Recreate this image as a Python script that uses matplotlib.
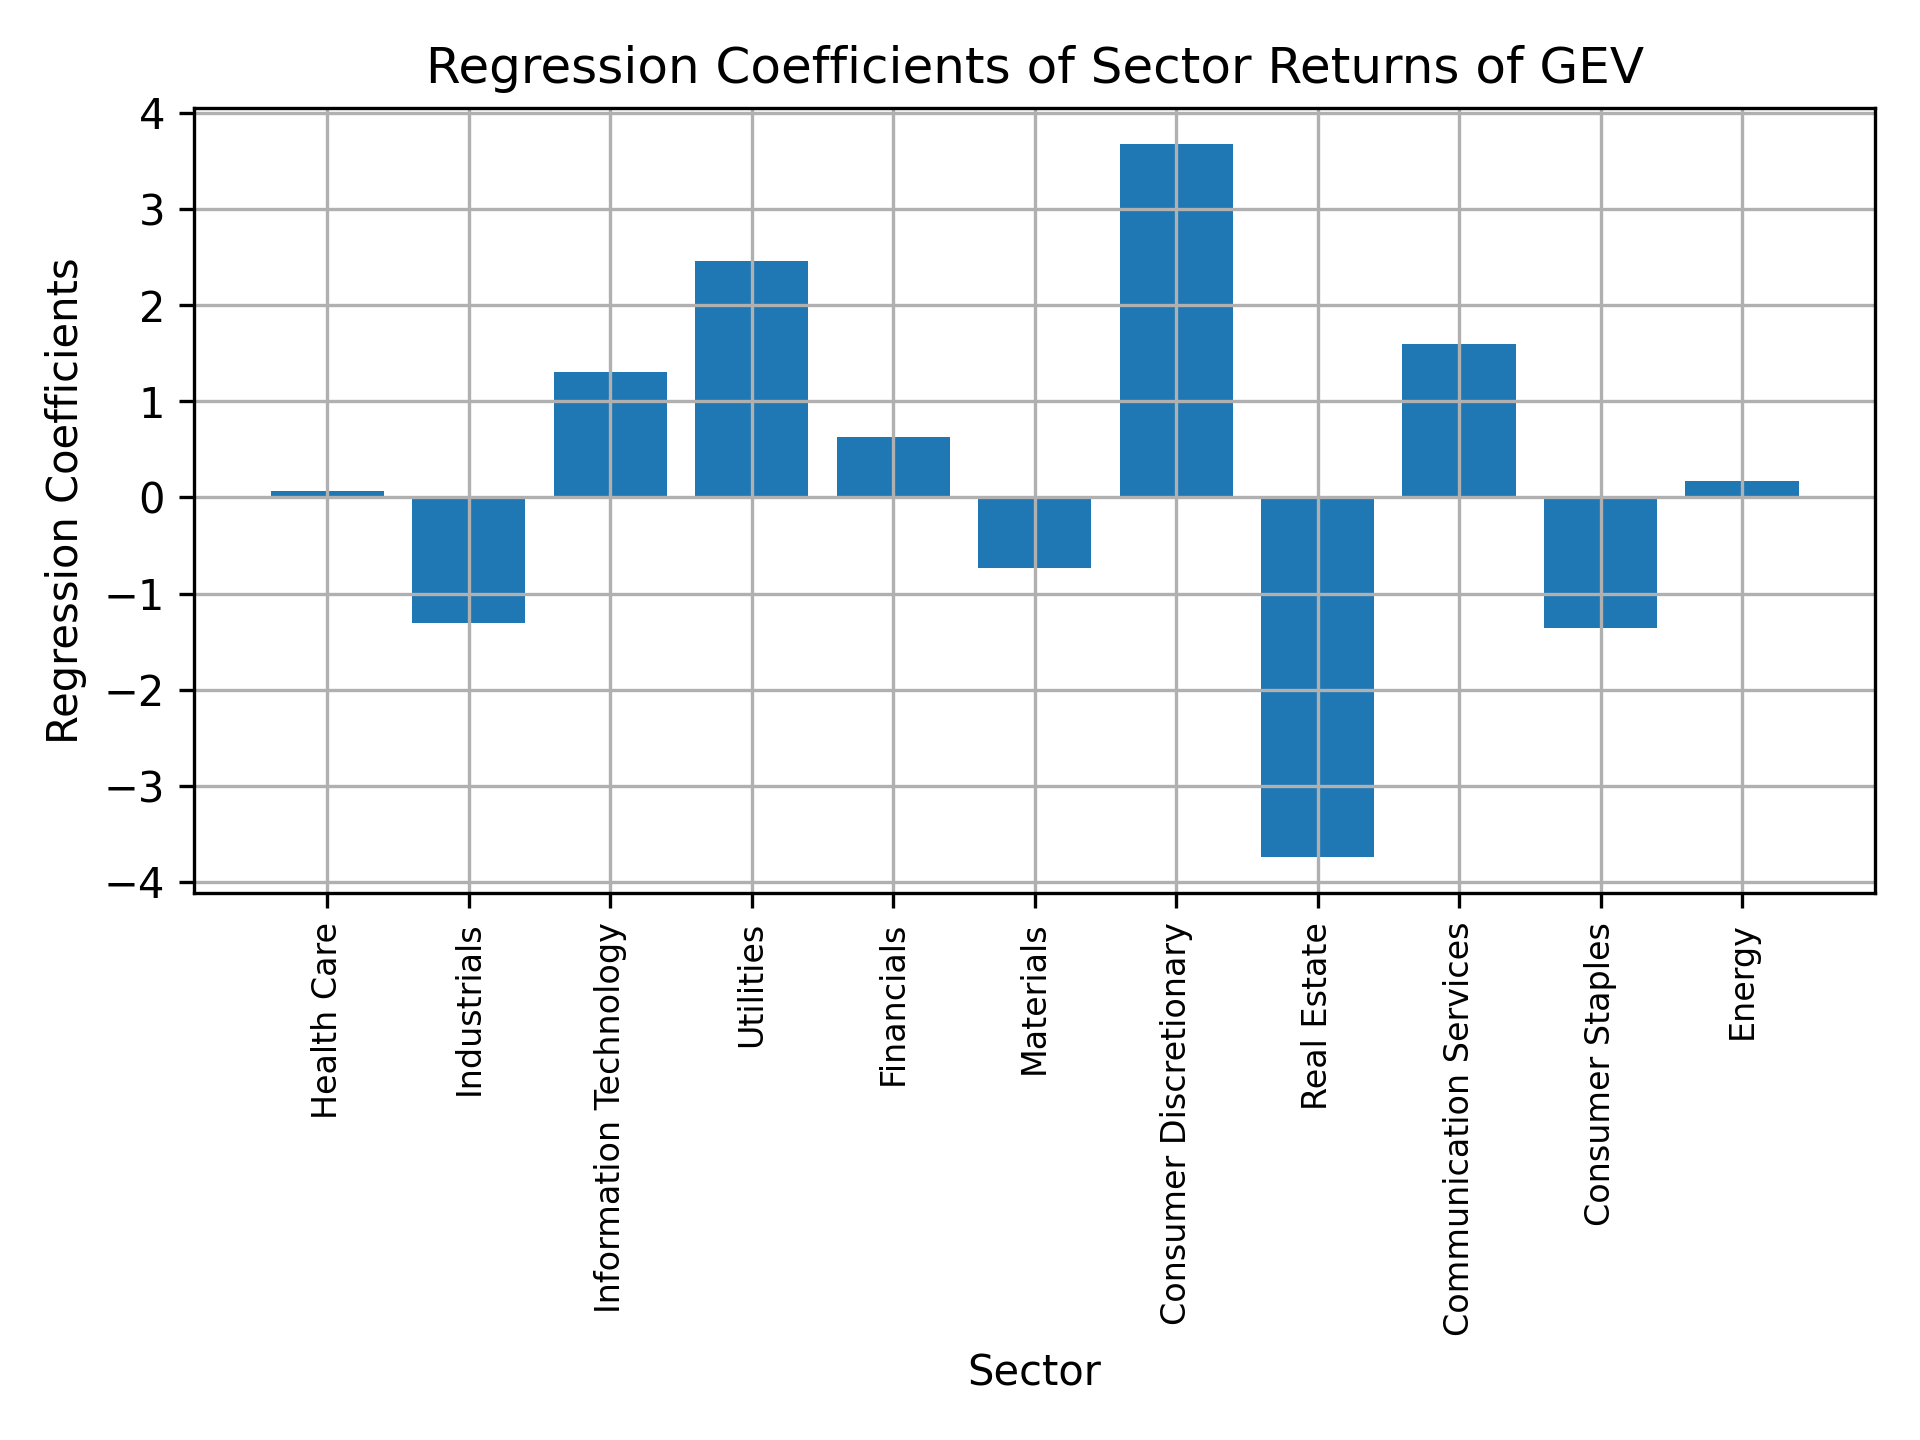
import matplotlib
matplotlib.use("Agg")
import matplotlib.pyplot as plt

sectors = ['Health Care', 'Industrials', 'Information Technology', 'Utilities',
           'Financials', 'Materials', 'Consumer Discretionary', 'Real Estate',
           'Communication Services', 'Consumer Staples', 'Energy']
coefficients = [0.07, -1.31, 1.31, 2.46, 0.63, -0.73, 3.68, -3.74, 1.60, -1.36, 0.17]

fig, ax = plt.subplots(figsize=(6.4, 4.8), dpi=300)
ax.bar(sectors, coefficients, color='#1f77b4')
ax.set_title('Regression Coefficients of Sector Returns of GEV')
ax.set_xlabel('Sector')
ax.set_ylabel('Regression Coefficients')
plt.xticks(rotation=90, fontsize=8)
ax.grid(True)
plt.tight_layout()
plt.savefig('out.png')
